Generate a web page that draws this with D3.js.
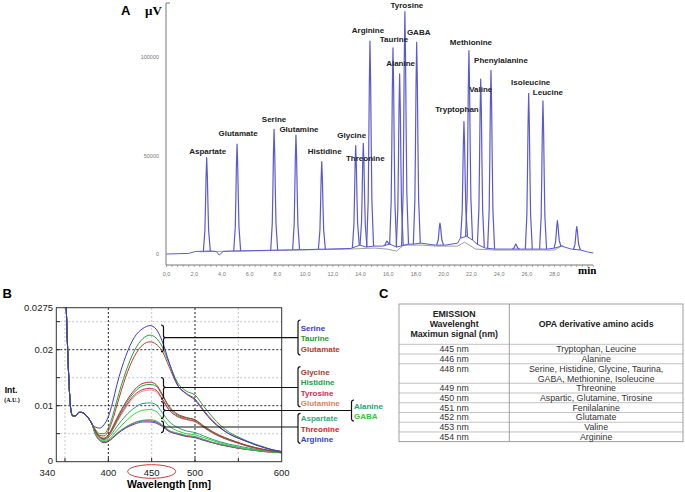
<!DOCTYPE html>
<html>
<head>
<meta charset="utf-8">
<script src="https://cdnjs.cloudflare.com/ajax/libs/d3/7.8.5/d3.min.js"></script>
<style>
  body { margin: 0; background: #fff; }
  svg { display: block; font-family: Arial, "Liberation Sans", sans-serif; }
</style>
</head>
<body>
<div id="figure"></div>
<script>
// Width and height for the SVG element
const w = 685;
const h = 492;

// ---------- Panel A data: chromatogram peaks ----------
const peakNames = ["Aspartate", "Glutamate", "Serine", "Glutamine", "Histidine", "Glycine", "Threonine",
  "Arginine", "Taurine", "Alanine", "Tyrosine", "GABA", "Tryptophan", "Methionine", "Valine",
  "Phenylalanine", "Isoleucine", "Leucine"];
const peakTimes = [2.9, 5.09, 7.76, 9.34, 11.2, 13.65, 14.2, 14.68, 16.34, 16.82, 17.2, 18.05,
  21.46, 21.82, 22.67, 23.41, 26.13, 27.16];
const peakApex = [48900, 55800, 63300, 60400, 46900, 55000, 56200, 108100, 104700, 91400, 123000,
  107500, 67200, 103200, 88800, 93200, 81600, 77700];
// small unlabelled peaks
const minorTimes = [15.9, 19.73, 25.2, 28.2, 29.6];
const minorApex = [6500, 15700, 5000, 16900, 13900];
// detector baseline [min, µV]
const baseTrace = [[0, 0], [1.6, 300], [2.1, 1300], [2.6, 1400], [3.3, 1500], [3.6, 1200], [3.8, -500],
  [4.1, 1300], [4.7, 1500], [5.5, 1600], [7.4, 1900], [8.2, 2000], [9.0, 2100], [9.8, 2200], [10.9, 2400],
  [11.6, 2500], [13.3, 2800], [13.95, 4500], [14.4, 3500], [14.95, 4000], [15.6, 4000], [16.1, 5000],
  [16.6, 3500], [17.45, 5000], [17.8, 5000], [18.35, 5500], [19.4, 4500], [20.1, 4500], [21.0, 5500],
  [21.2, 8000], [21.65, 9000], [22.1, 7000], [22.4, 5000], [23.0, 3000], [23.7, 2500], [24.8, 2500],
  [25.6, 2500], [26.5, 2500], [27.5, 2500], [28.0, 3000], [28.5, 4000], [29.2, 2500], [29.9, 2000],
  [30.4, 1000], [30.8, 500]];
// integration baseline drawn in grey
const integBase = [[2.4, 1100], [3.4, 1300], [4.6, 1400], [5.6, 1500], [7.3, 1700], [8.9, 1900],
  [10.8, 2200], [13.2, 2500], [15.0, 3000], [15.9, 2500], [16.6, 1500], [17.1, 4500], [18.5, 4500],
  [19.5, 4000], [21.0, 4000], [21.5, 6000], [22.3, 2500], [23.7, 2000], [28.0, 2000], [28.6, 4500]];
const timeTicks = d3.range(0, 29, 2);
const signalTicks = [0, 50000, 100000];

// label offsets from the peak apex (px) - layout only
const labelOffsets = [[1, -7], [1, -11], [0, -10], [3, -6], [3, -11], [-4, -11], [2, 15], [-2, -11],
  [1, -9], [1, -11], [2, -7], [2, -10], [-7, -13], [2, -9], [0, 10], [10, -10], [2, -11], [5, -9]];

// ---------- Panel B data: emission spectra ----------
const wavelengths = [351, 353, 355, 357, 359, 362, 366, 369, 373, 377, 381, 385, 390, 395, 400, 405, 410,
  420, 430, 440, 448, 455, 462, 470, 480, 490, 500, 510, 520, 530, 540, 550, 560, 570, 580, 590, 600];
// shared Rayleigh / blank part (351-381 nm)
const commonStart = [0.0300, 0.0205, 0.0130, 0.0090, 0.0082, 0.0082, 0.0088, 0.0088, 0.0085, 0.0078, 0.0068];
const serine    = [0.0062, 0.0060, 0.0066, 0.0080, 0.0106, 0.0138, 0.0188, 0.0222, 0.0238, 0.0243, 0.0237, 0.0216, 0.0178, 0.0137, 0.0121, 0.0110, 0.0090, 0.0072, 0.0059, 0.0049, 0.0042, 0.0036, 0.0030, 0.0025, 0.0021, 0.0018];
const taurine   = [0.0058, 0.0050, 0.0050, 0.0060, 0.0082, 0.0110, 0.0160, 0.0198, 0.0220, 0.0226, 0.0221, 0.0206, 0.0176, 0.0141, 0.0126, 0.0119, 0.0099, 0.0080, 0.0064, 0.0052, 0.0044, 0.0037, 0.0031, 0.0026, 0.0021, 0.0018];
const glutamate = [0.0056, 0.0047, 0.0046, 0.0055, 0.0075, 0.0101, 0.0151, 0.0188, 0.0209, 0.0214, 0.0210, 0.0198, 0.0170, 0.0136, 0.0122, 0.0112, 0.0092, 0.0074, 0.0060, 0.0049, 0.0042, 0.0036, 0.0030, 0.0025, 0.0021, 0.0018];
const glycine   = [0.0055, 0.0045, 0.0042, 0.0048, 0.0062, 0.0078, 0.0106, 0.0128, 0.0140, 0.0142, 0.0138, 0.0121, 0.0099, 0.0085, 0.0079, 0.0075, 0.0064, 0.0054, 0.0046, 0.0040, 0.0034, 0.0029, 0.0025, 0.0022, 0.0019, 0.0017];
const histidine = [0.0055, 0.0044, 0.0041, 0.0047, 0.0060, 0.0076, 0.0103, 0.0124, 0.0136, 0.0138, 0.0135, 0.0119, 0.0097, 0.0083, 0.0078, 0.0074, 0.0063, 0.0053, 0.0045, 0.0039, 0.0034, 0.0029, 0.0025, 0.0021, 0.0019, 0.0017];
const tyrosine  = [0.0054, 0.0044, 0.0040, 0.0046, 0.0058, 0.0073, 0.0099, 0.0119, 0.0129, 0.0131, 0.0128, 0.0113, 0.0093, 0.0081, 0.0076, 0.0072, 0.0062, 0.0052, 0.0044, 0.0038, 0.0033, 0.0028, 0.0024, 0.0021, 0.0019, 0.0017];
const glutamine = [0.0054, 0.0043, 0.0039, 0.0045, 0.0057, 0.0071, 0.0096, 0.0116, 0.0126, 0.0128, 0.0125, 0.0111, 0.0092, 0.0080, 0.0075, 0.0071, 0.0061, 0.0051, 0.0044, 0.0038, 0.0033, 0.0028, 0.0024, 0.0021, 0.0019, 0.0017];
const alanine   = [0.0053, 0.0044, 0.0040, 0.0043, 0.0052, 0.0063, 0.0082, 0.0096, 0.0104, 0.0105, 0.0102, 0.0088, 0.0072, 0.0061, 0.0055, 0.0052, 0.0046, 0.0040, 0.0035, 0.0031, 0.0028, 0.0025, 0.0022, 0.0020, 0.0018, 0.0016];
const gaba      = [0.0052, 0.0042, 0.0038, 0.0040, 0.0047, 0.0056, 0.0072, 0.0085, 0.0092, 0.0093, 0.0090, 0.0078, 0.0064, 0.0055, 0.0050, 0.0048, 0.0043, 0.0038, 0.0033, 0.0029, 0.0026, 0.0023, 0.0021, 0.0019, 0.0017, 0.0016];
const aspartate = [0.0050, 0.0040, 0.0036, 0.0038, 0.0044, 0.0051, 0.0062, 0.0070, 0.0074, 0.0075, 0.0073, 0.0066, 0.0056, 0.0051, 0.0047, 0.0045, 0.0040, 0.0035, 0.0031, 0.0028, 0.0025, 0.0022, 0.0020, 0.0019, 0.0017, 0.0016];
const threonine = [0.0050, 0.0039, 0.0035, 0.0037, 0.0043, 0.0050, 0.0061, 0.0069, 0.0073, 0.0073, 0.0071, 0.0065, 0.0055, 0.0050, 0.0046, 0.0044, 0.0039, 0.0034, 0.0030, 0.0027, 0.0024, 0.0022, 0.0020, 0.0018, 0.0017, 0.0016];
const arginine  = [0.0049, 0.0038, 0.0034, 0.0036, 0.0042, 0.0049, 0.0060, 0.0067, 0.0071, 0.0071, 0.0069, 0.0063, 0.0054, 0.0049, 0.0045, 0.0043, 0.0038, 0.0034, 0.0030, 0.0027, 0.0024, 0.0022, 0.0020, 0.0018, 0.0017, 0.0016];

const wlTicks = [340, 400, 450, 500, 600];
const intTicks = [0, 0.01, 0.02, 0.0275];

// ---------- Panel C data: table ----------
const emissionMax = ["445 nm", "446 nm", "448 nm", "449 nm", "450 nm", "451 nm", "452 nm", "453 nm", "454 nm"];
const opaAcids = [["Tryptophan, Leucine"], ["Alanine"],
  ["Serine, Histidine, Glycine, Taurina,", "GABA, Methionine, Isoleucine"], ["Threonine"],
  ["Aspartic, Glutamine, Tirosine"], ["Fenilalanine"], ["Glutamate"], ["Valine"], ["Arginine"]];

// Create SVG element
const svg = d3.select("#figure")
  .append("svg")
  .attr("width", w)
  .attr("height", h);
svg.append("rect").attr("width", w).attr("height", h).attr("fill", "#fff");

// ================= Panel A =================
const xA = d3.scaleLinear().domain([0, 30.8]).range([166.5, 593.4]);
const yA = d3.scaleLinear().domain([0, 100000]).range([254, 57]);
const baseAt = d3.scaleLinear().domain(baseTrace.map(d => d[0])).range(baseTrace.map(d => d[1]));

const gA = svg.append("g");

// axes
gA.append("line").attr("x1", 166).attr("x2", 166).attr("y1", 3).attr("y2", 265)
  .attr("stroke", "#555").attr("stroke-width", 0.8);
gA.append("line").attr("x1", 166).attr("x2", 170).attr("y1", 3).attr("y2", 3)
  .attr("stroke", "#555").attr("stroke-width", 0.8);
gA.append("line").attr("x1", 166).attr("x2", 593).attr("y1", 265).attr("y2", 265)
  .attr("stroke", "#555").attr("stroke-width", 0.8);
gA.selectAll("line.tick").data(d3.range(0, 30.81, 0.4)).enter().append("line")
  .attr("x1", d => xA(d)).attr("x2", d => xA(d)).attr("y1", 265).attr("y2", 267)
  .attr("stroke", "#777").attr("stroke-width", 0.6);
gA.selectAll("text.xt").data(timeTicks).enter().append("text")
  .attr("x", d => xA(d)).attr("y", 276).attr("text-anchor", "middle")
  .attr("font-size", 5.5).attr("fill", "#777").text(d => d.toFixed(1).replace(".", ","));
gA.selectAll("text.yt").data(signalTicks).enter().append("text")
  .attr("x", 159).attr("y", d => yA(d) + 2).attr("text-anchor", "end")
  .attr("font-size", 5.5).attr("fill", "#777").text(d => d);

gA.append("text").attr("x", 121).attr("y", 15).attr("font-size", 13).attr("font-weight", "bold").text("A");
gA.append("text").attr("x", 145).attr("y", 15).attr("font-size", 13).attr("font-weight", "bold")
  .attr("font-family", "'Liberation Serif', 'DejaVu Serif', serif").text("µV");
gA.append("text").attr("x", 578).attr("y", 274).attr("font-size", 11).attr("font-weight", "bold")
  .attr("font-family", "'Liberation Serif', 'DejaVu Serif', serif").text("min");

// grey integration baseline
const lineA = d3.line().x(d => xA(d[0])).y(d => yA(d[1]));
gA.append("path").attr("d", lineA(integBase)).attr("fill", "none")
  .attr("stroke", "#888").attr("stroke-width", 0.8);

// trace baseline
const traceColor = "#5a5ad0";
gA.append("path").attr("d", lineA(baseTrace)).attr("fill", "none")
  .attr("stroke", traceColor).attr("stroke-width", 1);

// peak shape template (offset in min, fraction of peak height)
const shapeDt = [-0.24, -0.13, -0.085, -0.045, 0, 0.048, 0.09, 0.14, 0.26];
const shapeFr = [0, 0.22, 0.5, 0.8, 1, 0.8, 0.5, 0.22, 0];
function peakPoints(t, apex) {
  return shapeDt.map((dt, i) => [t + dt, baseAt(t + dt) + shapeFr[i] * (apex - baseAt(t))]);
}
const allPeaks = peakTimes.map((t, i) => [t, peakApex[i]])
  .concat(minorTimes.map((t, i) => [t, minorApex[i]]));
gA.selectAll("path.peak").data(allPeaks).enter().append("path")
  .attr("class", "peak")
  .attr("d", d => lineA(peakPoints(d[0], d[1])))
  .attr("fill", "none").attr("stroke", traceColor).attr("stroke-width", 1.2)
  .attr("stroke-linejoin", "round");

// peak labels
gA.selectAll("text.plab").data(peakNames).enter().append("text")
  .attr("x", (d, i) => xA(peakTimes[i]) + labelOffsets[i][0])
  .attr("y", (d, i) => yA(peakApex[i]) + labelOffsets[i][1] + 3)
  .attr("text-anchor", "middle").attr("font-size", 8).attr("font-weight", "bold")
  .attr("fill", "#222").text(d => d);

// ================= Panel B =================
const xB = d3.scaleLinear().domain([340, 600]).range([56.3, 281.7]);
const yB = d3.scaleLinear().domain([0, 0.0275]).range([461.7, 307.7]);
const gB = svg.append("g");

// grid
const lightV = [350, 450, 550], darkV = [400, 500];
const lightH = [0.005, 0.015, 0.025], darkH = [0.01, 0.02];
gB.selectAll("line.lv").data(lightV).enter().append("line")
  .attr("x1", d => xB(d)).attr("x2", d => xB(d)).attr("y1", 308).attr("y2", 461.7)
  .attr("stroke", "#b8b8c8").attr("stroke-width", 0.8).attr("stroke-dasharray", "2,2");
gB.selectAll("line.lh").data(lightH).enter().append("line")
  .attr("x1", 56.3).attr("x2", 281.7).attr("y1", d => yB(d)).attr("y2", d => yB(d))
  .attr("stroke", "#b8b8c8").attr("stroke-width", 0.8).attr("stroke-dasharray", "2,2");
gB.selectAll("line.dv").data(darkV).enter().append("line")
  .attr("x1", d => xB(d)).attr("x2", d => xB(d)).attr("y1", 308).attr("y2", 461.7)
  .attr("stroke", "#222").attr("stroke-width", 1).attr("stroke-dasharray", "2,2");
gB.selectAll("line.dh").data(darkH).enter().append("line")
  .attr("x1", 56.3).attr("x2", 281.7).attr("y1", d => yB(d)).attr("y2", d => yB(d))
  .attr("stroke", "#223").attr("stroke-width", 1).attr("stroke-dasharray", "2,2");

// inner ticks
gB.selectAll("line.ty").data(lightH.concat(darkH)).enter().append("line")
  .attr("x1", 56.3).attr("x2", 60).attr("y1", d => yB(d)).attr("y2", d => yB(d))
  .attr("stroke", "#222").attr("stroke-width", 1);
gB.selectAll("line.tx").data(lightV.concat(darkV)).enter().append("line")
  .attr("x1", d => xB(d)).attr("x2", d => xB(d)).attr("y1", 461.7).attr("y2", 458)
  .attr("stroke", "#222").attr("stroke-width", 1);

// spectra
const spectra = [
  { name: "Arginine", vals: arginine, color: "#3343c8" },
  { name: "Threonine", vals: threonine, color: "#e02a2a" },
  { name: "Aspartate", vals: aspartate, color: "#3aa88a" },
  { name: "GABA", vals: gaba, color: "#33d033" },
  { name: "Alanine", vals: alanine, color: "#2e9e78" },
  { name: "Glutamine", vals: glutamine, color: "#c8a070" },
  { name: "Tyrosine", vals: tyrosine, color: "#d8245a" },
  { name: "Histidine", vals: histidine, color: "#229a44" },
  { name: "Glycine", vals: glycine, color: "#a83a2a" },
  { name: "Glutamate", vals: glutamate, color: "#b0402a" },
  { name: "Taurine", vals: taurine, color: "#2a9a3a" },
  { name: "Serine", vals: serine, color: "#3a3ad0" }
];
svg.append("clipPath").attr("id", "clipB").append("rect")
  .attr("x", 56.3).attr("y", 307.7).attr("width", 225.4).attr("height", 154);
const lineB = d3.line().x(d => xB(d[0])).y(d => yB(d[1])).curve(d3.curveMonotoneX);
gB.append("g").attr("clip-path", "url(#clipB)")
  .selectAll("path").data(spectra).enter().append("path")
  .attr("d", s => lineB(wavelengths.map((wl, i) => [wl, commonStart.concat(s.vals)[i]])))
  .attr("fill", "none").attr("stroke", s => s.color).attr("stroke-width", 1);

// frame
gB.append("rect").attr("x", 56.3).attr("y", 307.7).attr("width", 225.4).attr("height", 154)
  .attr("fill", "none").attr("stroke", "#333").attr("stroke-width", 1);

// tick labels
gB.selectAll("text.xt").data(wlTicks).enter().append("text")
  .attr("x", d => d === 340 ? xB(d) - 1 : xB(d)).attr("y", 476)
  .attr("text-anchor", d => d === 340 ? "end" : "middle")
  .attr("font-size", 9.5).attr("fill", "#222").text(d => d);
gB.selectAll("text.yt").data(intTicks).enter().append("text")
  .attr("x", 53).attr("y", d => d === 0 ? yB(d) + 2.5 : yB(d) + 3.5).attr("text-anchor", "end")
  .attr("font-size", 9.5).attr("fill", "#222").text(d => d);

gB.append("text").attr("x", 2.5).attr("y", 298).attr("font-size", 13).attr("font-weight", "bold").text("B");
gB.append("text").attr("x", 11).attr("y", 393).attr("text-anchor", "middle")
  .attr("font-size", 8.5).attr("font-weight", "bold").text("Int.");
gB.append("text").attr("x", 12).attr("y", 401.5).attr("text-anchor", "middle")
  .attr("font-size", 6).attr("font-weight", "bold")
  .attr("font-family", "'Liberation Serif', serif").text("(A.U.)");
gB.append("text").attr("x", 169).attr("y", 488).attr("text-anchor", "middle")
  .attr("font-size", 10.5).attr("font-weight", "bold").text("Wavelength [nm]");
gB.append("ellipse").attr("cx", xB(450)).attr("cy", 471.5).attr("rx", 24).attr("ry", 6.8)
  .attr("fill", "none").attr("stroke", "#c83a3a").attr("stroke-width", 1);

// brackets and labels
const labelGroups = [
  { names: ["Serine", "Taurine", "Glutamate"], colors: ["#3a3ad0", "#22a022", "#b0402a"],
    brace: [325, 351.7], yc: 337.7, bx: 298, bracket: [320, 355], ty: 327.7 },
  { names: ["Glycine", "Histidine", "Tyrosine", "Glutamine"], colors: ["#a83a2a", "#22a044", "#e0245a", "#e08060"],
    brace: [377.5, 399], yc: 387.5, bx: 298, bracket: [366.7, 406.7], ty: 371.7 },
  { names: ["Alanine", "GABA"], colors: ["#2e9e78", "#33c833"],
    brace: [401.5, 418.5], yc: 410.5, bx: 351.5, bracket: [400, 421], ty: 405.7, tx: 354 },
  { names: ["Aspartate", "Threonine", "Arginine"], colors: ["#35a880", "#e02020", "#3343c8"],
    brace: [421, 432.5], yc: 427, bx: 298, bracket: [413.3, 443.3], ty: 418.3 }
];
const braceX = 163.5;
labelGroups.forEach(g => {
  const [y0, y1] = g.brace;
  gB.append("path")
    .attr("d", `M${braceX - 2.5},${y0} Q${braceX},${y0} ${braceX},${y0 + 2.5} L${braceX},${g.yc - 2} ` +
      `Q${braceX},${g.yc} ${braceX + 2.5},${g.yc} Q${braceX},${g.yc} ${braceX},${g.yc + 2} ` +
      `L${braceX},${y1 - 2.5} Q${braceX},${y1} ${braceX - 2.5},${y1}`)
    .attr("fill", "none").attr("stroke", "#111").attr("stroke-width", 1.2);
  gB.append("line").attr("x1", braceX + 2.5).attr("x2", g.bx).attr("y1", g.yc).attr("y2", g.yc)
    .attr("stroke", "#111").attr("stroke-width", 1.2);
  const [b0, b1] = g.bracket;
  gB.append("path")
    .attr("d", `M${g.bx + 2.5},${b0} Q${g.bx},${b0} ${g.bx},${b0 + 2.5} L${g.bx},${b1 - 2.5} Q${g.bx},${b1} ${g.bx + 2.5},${b1}`)
    .attr("fill", "none").attr("stroke", "#111").attr("stroke-width", 1.2);
  gB.selectAll(null).data(g.names).enter().append("text")
    .attr("x", g.tx || 300.7).attr("y", (d, i) => g.ty + i * 10.4 + 3)
    .attr("font-size", 8).attr("font-weight", "bold")
    .attr("fill", (d, i) => g.colors[i]).text(d => d);
});

// ================= Panel C =================
const gC = svg.append("g");
gC.append("text").attr("x", 379).attr("y", 298).attr("font-size", 13).attr("font-weight", "bold").text("C");

const tx0 = 399, tx1 = 509.3, tx2 = 683;
const ty0 = 304, tyHead = 344.3, rowH = 9.74;
const rowUnits = opaAcids.map(d => d.length);
const rowTops = [];
let acc = tyHead;
rowUnits.forEach(u => { rowTops.push(acc); acc += u * rowH; });
const tyEnd = acc;

gC.append("rect").attr("x", tx0).attr("y", ty0).attr("width", tx2 - tx0).attr("height", tyEnd - ty0)
  .attr("fill", "none").attr("stroke", "#888").attr("stroke-width", 0.8);
gC.append("line").attr("x1", tx1).attr("x2", tx1).attr("y1", ty0).attr("y2", tyEnd)
  .attr("stroke", "#888").attr("stroke-width", 0.8);
gC.selectAll("line.row").data(rowTops).enter().append("line")
  .attr("x1", tx0).attr("x2", tx2).attr("y1", d => d).attr("y2", d => d)
  .attr("stroke", "#999").attr("stroke-width", 0.6);

const headLeft = ["EMISSION", "Wavelenght", "Maximun signal (nm)"];
gC.selectAll("text.hl").data(headLeft).enter().append("text")
  .attr("x", (tx0 + tx1) / 2).attr("y", (d, i) => 316.5 + i * 10)
  .attr("text-anchor", "middle").attr("font-size", 8.8).attr("font-weight", "bold")
  .attr("fill", "#222").text(d => d);
gC.append("text").attr("x", (tx1 + tx2) / 2).attr("y", 326.5).attr("text-anchor", "middle")
  .attr("font-size", 8.8).attr("font-weight", "bold").attr("fill", "#222")
  .text("OPA derivative amino acids");

gC.selectAll("text.em").data(emissionMax).enter().append("text")
  .attr("x", (tx0 + tx1) / 2).attr("y", (d, i) => rowTops[i] + 8)
  .attr("text-anchor", "middle").attr("font-size", 8.8).attr("fill", "#333").text(d => d);
opaAcids.forEach((lines, i) => {
  gC.selectAll(null).data(lines).enter().append("text")
    .attr("x", (tx1 + tx2) / 2).attr("y", (d, j) => rowTops[i] + 8 + j * rowH)
    .attr("text-anchor", "middle").attr("font-size", 8.8).attr("fill", "#333").text(d => d);
});
</script>
</body>
</html>
